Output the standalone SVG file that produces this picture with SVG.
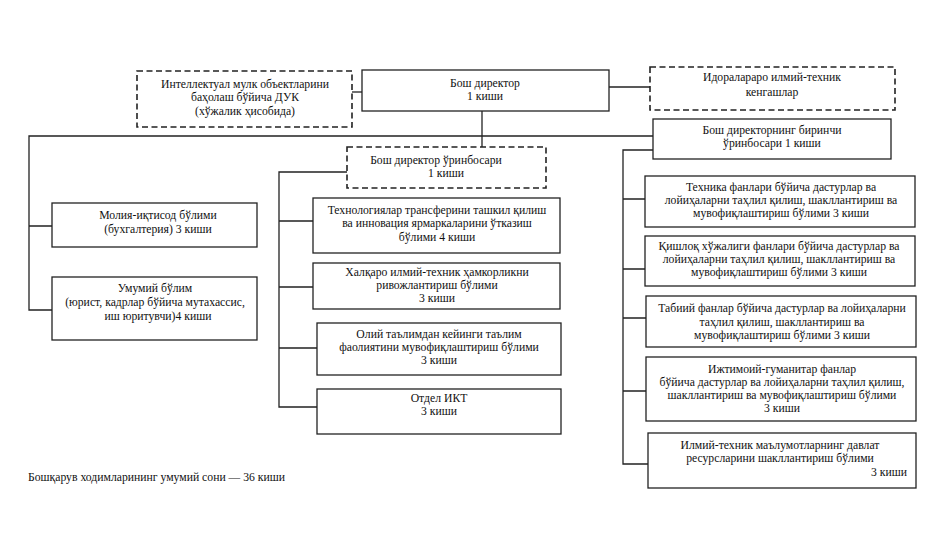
<svg xmlns="http://www.w3.org/2000/svg" width="947" height="546" viewBox="0 0 947 546">
<style>
.box{fill:#fff;stroke:#222;stroke-width:1.3}
.dash{fill:#fff;stroke:#222;stroke-width:1.6;stroke-dasharray:6 3.5}
.t{font-family:"Liberation Serif","Times New Roman",serif;font-size:11.7px;fill:#111;text-anchor:middle}
.l{text-anchor:start}
.e{text-anchor:end}
#connectors path{fill:none;stroke:#222;stroke-width:1.3}
</style>
<rect width="947" height="546" fill="#fff"/>
<g id="connectors">
<path d="M352 92H362"/>
<path d="M609 87H650"/>
<path d="M482 111V147"/>
<path d="M653 136H29V310H52M29 226H52"/>
<path d="M347 172H279V407H317M279 221H313M279 287H313M279 348H317"/>
<path d="M653 150H623V464H648M623 199H645M623 269H645M623 318H646M623 391H646"/>
</g>
<g id="duk">
<rect class="dash" x="137" y="71" width="215" height="56"/>
<text class="t" x="245" y="88">Интеллектуал мулк объектларини</text>
<text class="t" x="245" y="101">баҳолаш бўйича ДУК</text>
<text class="t" x="245" y="115">(хўжалик ҳисобида)</text>
</g>
<g id="boss">
<rect class="box" x="362" y="70" width="247" height="41"/>
<text class="t" x="485" y="87">Бош директор</text>
<text class="t" x="485" y="100">1 киши</text>
</g>
<g id="council">
<rect class="dash" x="650" y="67" width="245" height="43"/>
<text class="t" x="772" y="81">Идоралараро илмий-техник</text>
<text class="t" x="772" y="96">кенгашлар</text>
</g>
<g id="first-deputy">
<rect class="box" x="653" y="119" width="238" height="40"/>
<text class="t" x="772" y="134">Бош директорнинг биринчи</text>
<text class="t" x="772" y="147">ўринбосари 1 киши</text>
</g>
<g id="deputy">
<rect class="dash" x="347" y="147" width="199" height="41"/>
<text class="t" x="436" y="164">Бош директор ўринбосари</text>
<text class="t" x="446" y="177">1 киши</text>
</g>
<g id="finance">
<rect class="box" x="52" y="203" width="205" height="44"/>
<text class="t" x="158" y="219">Молия-иқтисод бўлими</text>
<text class="t" x="158" y="233">(бухгалтерия) 3 киши</text>
</g>
<g id="general">
<rect class="box" x="52" y="277" width="205" height="63"/>
<text class="t" x="155" y="292">Умумий бўлим</text>
<text class="t" x="155" y="306">(юрист, кадрлар бўйича мутахассис,</text>
<text class="t" x="158" y="320">иш юритувчи)4 киши</text>
</g>
<g id="tech-transfer">
<rect class="box" x="313" y="198" width="247" height="55"/>
<text class="t" x="437" y="214">Технологиялар трансферини ташкил қилиш</text>
<text class="t" x="437" y="227">ва инновация ярмаркаларини ўтказиш</text>
<text class="t" x="437" y="241">бўлими 4 киши</text>
</g>
<g id="intl">
<rect class="box" x="313" y="263" width="247" height="46"/>
<text class="t" x="437" y="276">Халқаро илмий-техник ҳамкорликни</text>
<text class="t" x="437" y="289">ривожлантириш бўлими</text>
<text class="t" x="437" y="302">3 киши</text>
</g>
<g id="postgrad">
<rect class="box" x="317" y="323" width="244" height="52"/>
<text class="t" x="439" y="338">Олий таълимдан кейинги таълим</text>
<text class="t" x="439" y="351">фаолиятини мувофиқлаштириш бўлими</text>
<text class="t" x="439" y="364">3 киши</text>
</g>
<g id="ict">
<rect class="box" x="317" y="389" width="244" height="45"/>
<text class="t" x="439" y="402">Отдел ИКТ</text>
<text class="t" x="439" y="415">3 киши</text>
</g>
<g id="r-tech">
<rect class="box" x="645" y="176" width="270" height="51"/>
<text class="t" x="781" y="191">Техника фанлари бўйича дастурлар ва</text>
<text class="t" x="781" y="204">лойиҳаларни таҳлил қилиш, шакллантириш ва</text>
<text class="t" x="781" y="217">мувофиқлаштириш бўлими 3 киши</text>
</g>
<g id="r-agri">
<rect class="box" x="645" y="236" width="270" height="50"/>
<text class="t" x="779" y="250">Қишлоқ хўжалиги фанлари бўйича дастурлар ва</text>
<text class="t" x="779" y="263">лойиҳаларни таҳлил қилиш, шакллантириш ва</text>
<text class="t" x="779" y="276">мувофиқлаштириш бўлими 3 киши</text>
</g>
<g id="r-nat">
<rect class="box" x="646" y="296" width="270" height="51"/>
<text class="t" x="782" y="312">Табиий фанлар бўйича дастурлар ва лойиҳаларни</text>
<text class="t" x="782" y="326">таҳлил қилиш, шакллантириш ва</text>
<text class="t" x="782" y="339">мувофиқлаштириш бўлими 3 киши</text>
</g>
<g id="r-soc">
<rect class="box" x="646" y="357" width="270" height="64"/>
<text class="t" x="782" y="373">Ижтимоий-гуманитар фанлар</text>
<text class="t" x="782" y="386">бўйича дастурлар ва лойиҳаларни таҳлил қилиш,</text>
<text class="t" x="782" y="399">шакллантириш ва мувофиқлаштириш бўлими</text>
<text class="t" x="782" y="412">3 киши</text>
</g>
<g id="r-info">
<rect class="box" x="648" y="433" width="268" height="55"/>
<text class="t" x="780" y="449">Илмий-техник маълумотларнинг давлат</text>
<text class="t" x="780" y="462">ресурсларини шакллантириш бўлими</text>
<text class="t e" x="907" y="476">3 киши</text>
</g>
<text class="t l" x="28" y="481">Бошқарув ходимларининг умумий сони — 36 киши</text>
</svg>
